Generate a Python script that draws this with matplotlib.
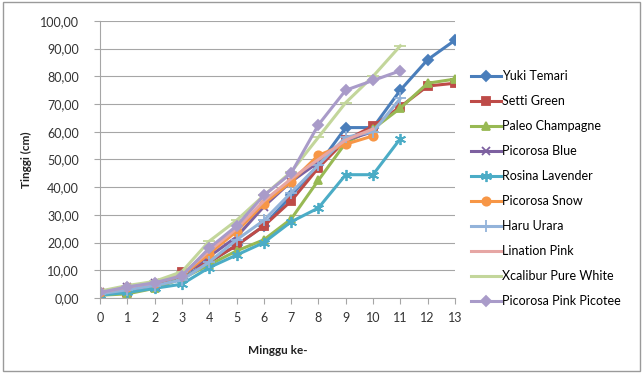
import matplotlib.pyplot as plt
from matplotlib.ticker import FuncFormatter

plt.rcParams['font.family'] = ['Lato', 'DejaVu Sans']

# Minggu ke- (week) dan tinggi tanaman (cm) untuk tiap varietas
yuki_temari = [1.5, 2.5, 4.0, 7.0, 13.0, 19.0, 26.0, 37.0, 48.0, 61.5, 61.5, 75.0, 86.0, 93.0]
setti_green = [1.5, 2.0, 4.0, 9.5, 13.0, 19.0, 26.0, 35.0, 47.0, 57.0, 62.0, 69.0, 76.5, 77.5]
paleo_champagne = [1.0, 1.5, 3.5, 7.0, 12.0, 17.0, 21.0, 28.5, 42.5, 56.0, 61.0, 68.5, 77.5, 79.0]
picorosa_blue = [2.0, 4.0, 5.5, 8.0, 15.0, 22.0, 33.0, 42.0, 49.0, 57.0, 60.0]
rosina_lavender = [1.0, 2.0, 3.5, 5.0, 11.0, 15.5, 20.0, 27.5, 32.5, 44.5, 44.5, 57.5]
picorosa_snow = [2.0, 4.0, 5.5, 8.0, 16.0, 24.0, 34.0, 42.0, 51.5, 55.5, 58.5]
haru_urara = [1.5, 3.0, 4.5, 6.5, 13.0, 21.0, 28.0, 38.0, 48.0, 58.0, 60.0, 72.0]
lination_pink = [2.0, 4.0, 5.5, 8.5, 17.0, 25.0, 35.0, 43.0, 50.0, 57.0, 61.0]
xcalibur_white = [2.5, 4.5, 6.0, 9.5, 20.5, 28.0, 37.0, 45.5, 58.0, 70.5, 80.0, 91.0]
pink_picotee = [2.0, 4.0, 5.5, 8.0, 18.0, 26.0, 37.0, 45.0, 62.5, 75.0, 78.5, 82.0]

series = [
    ("Yuki Temari", yuki_temari, '#4A7EBB', 'D', 5),
    ("Setti Green", setti_green, '#BE4B48', 's', 6),
    ("Paleo Champagne", paleo_champagne, '#98B954', '^', 6),
    ("Picorosa Blue", picorosa_blue, '#7D60A0', 'x', 6),
    ("Rosina Lavender", rosina_lavender, '#4BACC6', (6, 2, 0), 8),
    ("Picorosa Snow", picorosa_snow, '#F79646', 'o', 6),
    ("Haru Urara", haru_urara, '#93B3DA', '+', 8),
    ("Lination Pink", lination_pink, '#E6A6A4', 'None', 0),
    ("Xcalibur Pure White", xcalibur_white, '#C3D69B', '_', 8),
    ("Picorosa Pink Picotee", pink_picotee, '#A99BC9', 'D', 5),
]

fig = plt.figure(figsize=(6.43, 3.73), dpi=100)
ax = fig.add_axes([0.1555, 0.201, 0.552, 0.743])

for name, vals, col, mk, ms in series:
    ax.plot(range(len(vals)), vals, color=col, marker=mk, markersize=ms,
            linewidth=2.2, markeredgewidth=1.3, label=name)

ax.set_xlim(0, 13)
ax.set_ylim(0, 100)
ax.set_xticks(range(14))
ax.set_yticks(range(0, 101, 10))
ax.yaxis.set_major_formatter(FuncFormatter(lambda v, p: f"{v:.2f}".replace('.', ',')))
ax.grid(axis='y', color='#A6A6A6', linewidth=0.8)
ax.set_axisbelow(True)
for s in ['top', 'right']:
    ax.spines[s].set_visible(False)
for s in ['left', 'bottom']:
    ax.spines[s].set_color('#A6A6A6')
ax.tick_params(axis='both', colors='#A6A6A6', labelcolor='#333333', labelsize=9, length=4)
ax.tick_params(axis='x', pad=6)
ax.tick_params(axis='y', pad=11)

ax.set_ylabel("Tinggi (cm)", fontsize=8.5, fontweight='bold', color='#222222', labelpad=6)
ax.set_xlabel("Minggu ke-", fontsize=8.5, fontweight='bold', color='#222222', labelpad=15)

ax.legend(loc='upper left', bbox_to_anchor=(1.03, 0.84), frameon=False,
          fontsize=9, labelspacing=1.04, handlelength=2.4, handletextpad=0.1,
          borderaxespad=0)

fig.patches.append(plt.Rectangle((0.004, 0.006), 0.992, 0.988, transform=fig.transFigure,
                                 fill=False, edgecolor='#9A9A9A', linewidth=1))

fig.savefig("out.png", dpi=100)
